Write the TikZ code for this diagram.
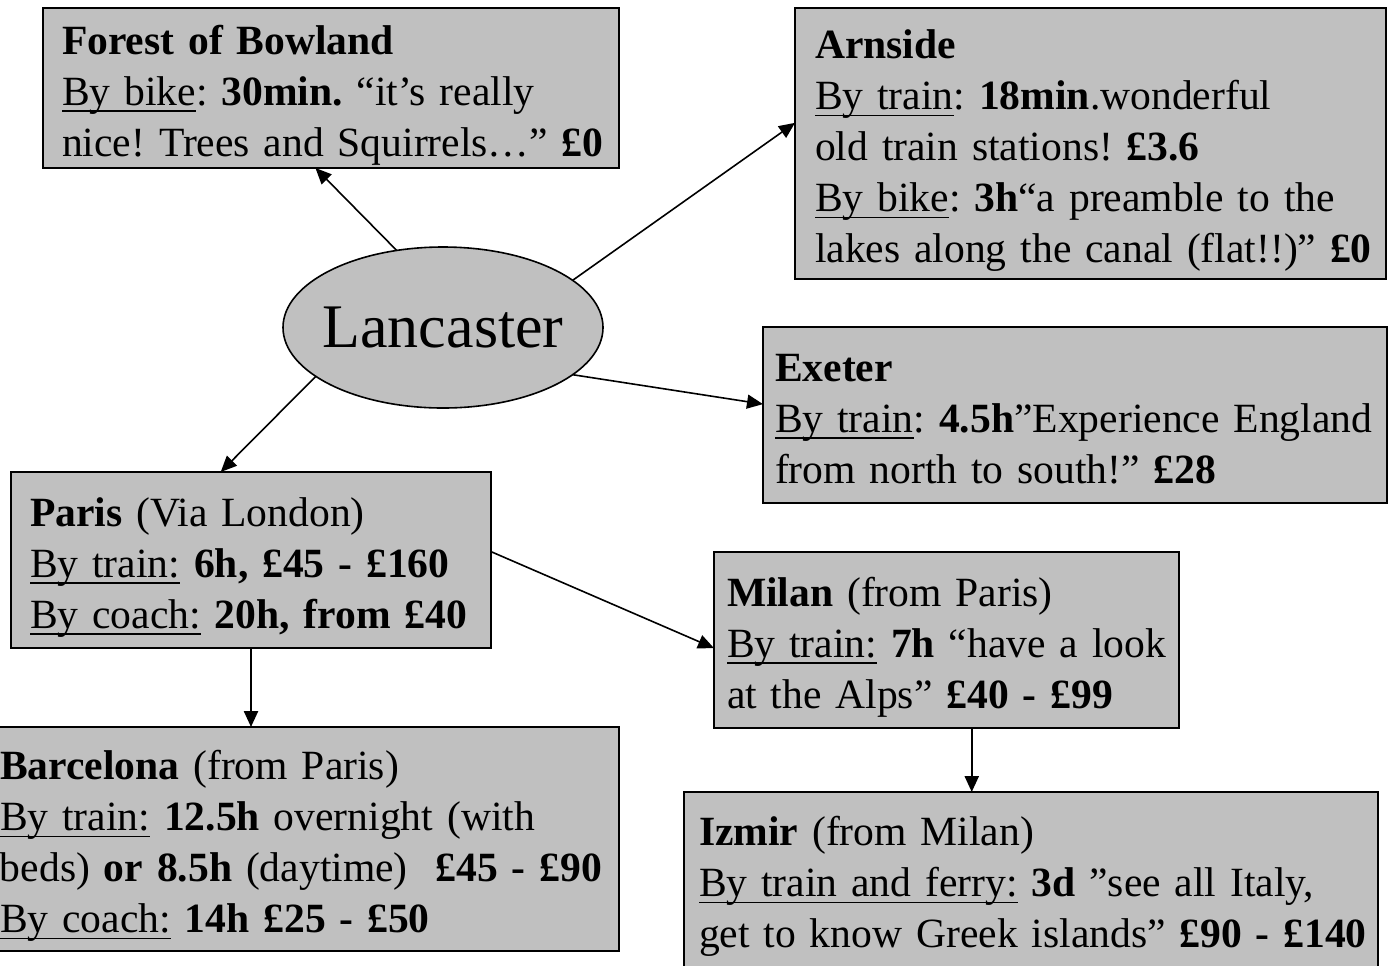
\documentclass[tikz,border=0pt]{standalone}
\usepackage{fontspec}
\setmainfont{Liberation Serif}
\usepackage{tikz}
\usetikzlibrary{arrows.meta, shapes.geometric}
\frenchspacing
\definecolor{boxgray}{HTML}{C0C0C0}
\tikzstyle{dest}=[rectangle, draw, fill=boxgray, line width=0.55pt, anchor=north west,
  align=left, inner ysep=0pt, outer sep=0pt,
  font=\fontsize{10.4pt}{12.75pt}\selectfont]
\tikzstyle{town}=[ellipse, draw, fill=boxgray, line width=0.4pt, inner xsep=-2pt, inner ysep=0pt,
  outer sep=0pt, minimum width=80pt, minimum height=40.25pt, font=\fontsize{15.5pt}{18pt}\selectfont]
\tikzstyle{link}=[-{Triangle[length=4pt,width=3.5pt]}, line width=0.4pt]
\tikzstyle{drop}=[link, line width=0.6pt]
\newcommand{\travel}[1]{\underline{\smash{#1}}}
\newcommand{\lines}[1]{\raisebox{-1.75pt}[\height][\depth]{\begin{tabular}{@{}l@{}}#1\end{tabular}}}

\begin{document}
\begin{tikzpicture}[x=0.25pt, y=-0.25pt]
                    \useasboundingbox (0,0) rectangle (1389,965);
                    \node[town] (lanc) at (443,327.5) {Lancaster};
                    \node[dest, text width=134.5pt, inner xsep=4.75pt, minimum height=40pt] (forest) at (43,8)
                        {\lines{\textbf{Forest of Bowland}\\
                         \travel{By bike}: \textbf{30min.} “it’s really\\
                         nice! Trees and Squirrels…” \textbf{£0}}};
                    \node[dest, text width=137.75pt, inner xsep=5pt, minimum height=67.75pt] (arnside) at (795,8)
                        {\lines{\textbf{Arnside}\\
                         \travel{By train}: \textbf{18min}.wonderful\\
                         old train stations! \textbf{£3.6}\\
                         \travel{By bike}: \textbf{3h}“a preamble to the\\
                         lakes along the canal (flat!!)” \textbf{£0}}};
                    \node[dest, text width=150pt, inner xsep=3pt, minimum height=44pt] (exeter) at (763,327)
                        {\lines{\textbf{Exeter}\\
                         \travel{By train}: \textbf{4.5h}”Experience England\\
                         from north to south!” \textbf{£28}}};
                    \node[dest, text width=110.5pt, inner xsep=4.75pt, minimum height=44pt] (paris) at (11,472)
                        {\lines{\textbf{Paris} (Via London)\\
                         \travel{By train:} \textbf{6h, £45 - £160}\\
                         \travel{By coach:} \textbf{20h, from £40}}};
                    \node[dest, text width=109.75pt, inner xsep=3.25pt, minimum height=44pt] (milan) at (714,552)
                        {\lines{\textbf{Milan} (from Paris)\\
                         \travel{By train:} \textbf{7h} “have a look\\
                         at the Alps” \textbf{£40 - £99}}};
                    \node[dest, text width=150pt, inner xsep=4.75pt, minimum height=56pt] (barcelona) at (-19,727)
                        {\lines{\textbf{Barcelona} (from Paris)\\
                         \travel{By train:} \textbf{12.5h} overnight (with\\
                         beds) \textbf{or 8.5h} (daytime)\ \ \textbf{£45 - £90}\\
                         \travel{By coach:} \textbf{14h £25 - £50}}};
                    \node[dest, text width=166pt, inner xsep=3.75pt, minimum height=43.75pt] (izmir) at (684,792)
                        {\lines{\textbf{Izmir} (from Milan)\\
                         \travel{By train and ferry:} \textbf{3d} ”see all Italy,\\
                         get to know Greek islands” \textbf{£90 - £140}}};
                    \draw[link] (lanc.121) -- (forest.259);
                    \draw[link] (lanc.20) -- (arnside.176);
                    \draw[link] (lanc.340) -- (exeter.178);
                    \draw[link] (lanc.201) -- (paris.109);
                    \draw[link] (paris.2) -- (milan.182);
                    \draw[drop] (paris.south) -- (paris.south |- barcelona.north);
                    \draw[drop] (milan.286) -- (milan.286 |- izmir.north);
                \end{tikzpicture}
\end{document}
